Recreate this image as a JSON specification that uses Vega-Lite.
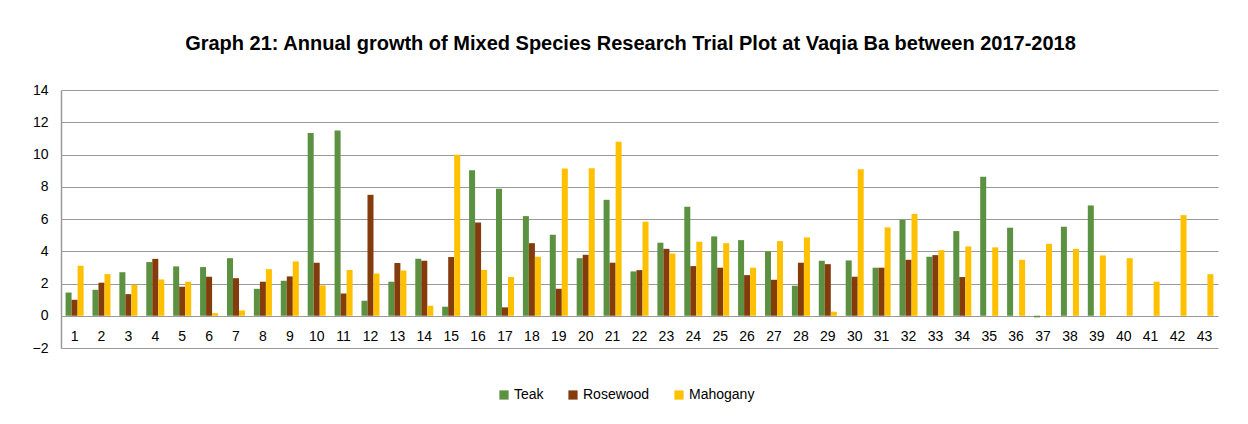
{
  "$schema": "https://vega.github.io/schema/vega-lite/v6.json",
  "autosize": "none",
  "width": 1157,
  "height": 258,
  "padding": {"left": 61, "top": 90, "right": 30, "bottom": 76},
  "background": "white",
  "title": {
    "text": "Graph 21: Annual growth of Mixed Species Research Trial Plot at Vaqia Ba between 2017-2018",
    "font": "Liberation Sans, Arial, sans-serif",
    "fontSize": 20,
    "fontWeight": "bold",
    "color": "#000000",
    "anchor": "middle",
    "dx": -9,
    "offset": 29
  },
  "data": {
    "values": [
      {"plot": 1, "species": "Teak", "growth": 1.44}, {"plot": 1, "species": "Rosewood", "growth": 0.99}, {"plot": 1, "species": "Mahogany", "growth": 3.1},
      {"plot": 2, "species": "Teak", "growth": 1.61}, {"plot": 2, "species": "Rosewood", "growth": 2.05}, {"plot": 2, "species": "Mahogany", "growth": 2.58},
      {"plot": 3, "species": "Teak", "growth": 2.7}, {"plot": 3, "species": "Rosewood", "growth": 1.34}, {"plot": 3, "species": "Mahogany", "growth": 1.92},
      {"plot": 4, "species": "Teak", "growth": 3.33}, {"plot": 4, "species": "Rosewood", "growth": 3.53}, {"plot": 4, "species": "Mahogany", "growth": 2.25},
      {"plot": 5, "species": "Teak", "growth": 3.06}, {"plot": 5, "species": "Rosewood", "growth": 1.8}, {"plot": 5, "species": "Mahogany", "growth": 2.11},
      {"plot": 6, "species": "Teak", "growth": 3.02}, {"plot": 6, "species": "Rosewood", "growth": 2.42}, {"plot": 6, "species": "Mahogany", "growth": 0.16},
      {"plot": 7, "species": "Teak", "growth": 3.57}, {"plot": 7, "species": "Rosewood", "growth": 2.33}, {"plot": 7, "species": "Mahogany", "growth": 0.33},
      {"plot": 8, "species": "Teak", "growth": 1.67}, {"plot": 8, "species": "Rosewood", "growth": 2.11}, {"plot": 8, "species": "Mahogany", "growth": 2.89},
      {"plot": 9, "species": "Teak", "growth": 2.17}, {"plot": 9, "species": "Rosewood", "growth": 2.44}, {"plot": 9, "species": "Mahogany", "growth": 3.37},
      {"plot": 10, "species": "Teak", "growth": 11.33}, {"plot": 10, "species": "Rosewood", "growth": 3.29}, {"plot": 10, "species": "Mahogany", "growth": 1.88},
      {"plot": 11, "species": "Teak", "growth": 11.49}, {"plot": 11, "species": "Rosewood", "growth": 1.38}, {"plot": 11, "species": "Mahogany", "growth": 2.83},
      {"plot": 12, "species": "Teak", "growth": 0.93}, {"plot": 12, "species": "Rosewood", "growth": 7.5}, {"plot": 12, "species": "Mahogany", "growth": 2.62},
      {"plot": 13, "species": "Teak", "growth": 2.11}, {"plot": 13, "species": "Rosewood", "growth": 3.27}, {"plot": 13, "species": "Mahogany", "growth": 2.81},
      {"plot": 14, "species": "Teak", "growth": 3.53}, {"plot": 14, "species": "Rosewood", "growth": 3.41}, {"plot": 14, "species": "Mahogany", "growth": 0.62},
      {"plot": 15, "species": "Teak", "growth": 0.56}, {"plot": 15, "species": "Rosewood", "growth": 3.64}, {"plot": 15, "species": "Mahogany", "growth": 9.98},
      {"plot": 16, "species": "Teak", "growth": 9.03}, {"plot": 16, "species": "Rosewood", "growth": 5.79}, {"plot": 16, "species": "Mahogany", "growth": 2.83},
      {"plot": 17, "species": "Teak", "growth": 7.87}, {"plot": 17, "species": "Rosewood", "growth": 0.52}, {"plot": 17, "species": "Mahogany", "growth": 2.4},
      {"plot": 18, "species": "Teak", "growth": 6.18}, {"plot": 18, "species": "Rosewood", "growth": 4.5}, {"plot": 18, "species": "Mahogany", "growth": 3.66},
      {"plot": 19, "species": "Teak", "growth": 5.02}, {"plot": 19, "species": "Rosewood", "growth": 1.67}, {"plot": 19, "species": "Mahogany", "growth": 9.13},
      {"plot": 20, "species": "Teak", "growth": 3.57}, {"plot": 20, "species": "Rosewood", "growth": 3.78}, {"plot": 20, "species": "Mahogany", "growth": 9.15},
      {"plot": 21, "species": "Teak", "growth": 7.19}, {"plot": 21, "species": "Rosewood", "growth": 3.29}, {"plot": 21, "species": "Mahogany", "growth": 10.79},
      {"plot": 22, "species": "Teak", "growth": 2.75}, {"plot": 22, "species": "Rosewood", "growth": 2.83}, {"plot": 22, "species": "Mahogany", "growth": 5.83},
      {"plot": 23, "species": "Teak", "growth": 4.53}, {"plot": 23, "species": "Rosewood", "growth": 4.15}, {"plot": 23, "species": "Mahogany", "growth": 3.86},
      {"plot": 24, "species": "Teak", "growth": 6.76}, {"plot": 24, "species": "Rosewood", "growth": 3.08}, {"plot": 24, "species": "Mahogany", "growth": 4.59},
      {"plot": 25, "species": "Teak", "growth": 4.92}, {"plot": 25, "species": "Rosewood", "growth": 2.98}, {"plot": 25, "species": "Mahogany", "growth": 4.5},
      {"plot": 26, "species": "Teak", "growth": 4.69}, {"plot": 26, "species": "Rosewood", "growth": 2.52}, {"plot": 26, "species": "Mahogany", "growth": 2.98},
      {"plot": 27, "species": "Teak", "growth": 3.99}, {"plot": 27, "species": "Rosewood", "growth": 2.23}, {"plot": 27, "species": "Mahogany", "growth": 4.63},
      {"plot": 28, "species": "Teak", "growth": 1.86}, {"plot": 28, "species": "Rosewood", "growth": 3.29}, {"plot": 28, "species": "Mahogany", "growth": 4.86},
      {"plot": 29, "species": "Teak", "growth": 3.41}, {"plot": 29, "species": "Rosewood", "growth": 3.2}, {"plot": 29, "species": "Mahogany", "growth": 0.25},
      {"plot": 30, "species": "Teak", "growth": 3.43}, {"plot": 30, "species": "Rosewood", "growth": 2.42}, {"plot": 30, "species": "Mahogany", "growth": 9.09},
      {"plot": 31, "species": "Teak", "growth": 2.98}, {"plot": 31, "species": "Rosewood", "growth": 2.98}, {"plot": 31, "species": "Mahogany", "growth": 5.48},
      {"plot": 32, "species": "Teak", "growth": 5.95}, {"plot": 32, "species": "Rosewood", "growth": 3.47}, {"plot": 32, "species": "Mahogany", "growth": 6.32},
      {"plot": 33, "species": "Teak", "growth": 3.66}, {"plot": 33, "species": "Rosewood", "growth": 3.76}, {"plot": 33, "species": "Mahogany", "growth": 4.07},
      {"plot": 34, "species": "Teak", "growth": 5.25}, {"plot": 34, "species": "Rosewood", "growth": 2.4}, {"plot": 34, "species": "Mahogany", "growth": 4.3},
      {"plot": 35, "species": "Teak", "growth": 8.62}, {"plot": 35, "species": "Mahogany", "growth": 4.24},
      {"plot": 36, "species": "Teak", "growth": 5.46}, {"plot": 36, "species": "Mahogany", "growth": 3.47},
      {"plot": 37, "species": "Teak", "growth": -0.1}, {"plot": 37, "species": "Mahogany", "growth": 4.46},
      {"plot": 38, "species": "Teak", "growth": 5.52}, {"plot": 38, "species": "Mahogany", "growth": 4.15},
      {"plot": 39, "species": "Teak", "growth": 6.84}, {"plot": 39, "species": "Mahogany", "growth": 3.74},
      {"plot": 40, "species": "Mahogany", "growth": 3.57},
      {"plot": 41, "species": "Mahogany", "growth": 2.11},
      {"plot": 42, "species": "Mahogany", "growth": 6.24},
      {"plot": 43, "species": "Mahogany", "growth": 2.58}
    ]
  },
  "mark": {"type": "bar", "stroke": null},
  "encoding": {
    "x": {
      "field": "plot",
      "type": "ordinal",
      "scale": {"paddingInner": 0.33, "paddingOuter": 0.17},
      "axis": {
        "title": null,
        "labelAngle": 0,
        "ticks": false,
        "domain": false,
        "grid": false,
        "labelPadding": -19,
        "labelFont": "Liberation Sans, Arial, sans-serif",
        "labelFontSize": 14,
        "labelColor": "#000000"
      }
    },
    "xOffset": {
      "field": "species",
      "type": "nominal",
      "sort": ["Teak", "Rosewood", "Mahogany"],
      "scale": {"domain": ["Teak", "Rosewood", "Mahogany"], "paddingInner": 0}
    },
    "y": {
      "field": "growth",
      "type": "quantitative",
      "scale": {"domain": [-2, 14], "nice": false, "zero": false},
      "axis": {
        "title": null,
        "values": [-2, 0, 2, 4, 6, 8, 10, 12, 14],
        "ticks": false,
        "domainColor": "#9a9a9a",
        "domainWidth": 1.5,
        "gridColor": "#9a9a9a",
        "gridWidth": 1,
        "labelPadding": 13,
        "labelFont": "Liberation Sans, Arial, sans-serif",
        "labelFontSize": 14,
        "labelColor": "#000000"
      }
    },
    "color": {
      "field": "species",
      "type": "nominal",
      "sort": ["Teak", "Rosewood", "Mahogany"],
      "scale": {"domain": ["Teak", "Rosewood", "Mahogany"], "range": ["#5B9140", "#843C0C", "#FFC000"]},
      "legend": {
        "title": null,
        "orient": "none",
        "legendX": 436,
        "legendY": 298,
        "direction": "horizontal",
        "symbolType": "square",
        "symbolSize": 85,
        "symbolStrokeWidth": 0,
        "labelFont": "Liberation Sans, Arial, sans-serif",
        "labelFontSize": 14,
        "labelColor": "#000000",
        "columnPadding": 22,
        "labelOffset": 3
      }
    }
  },
  "config": {
    "view": {"stroke": null}
  }
}
